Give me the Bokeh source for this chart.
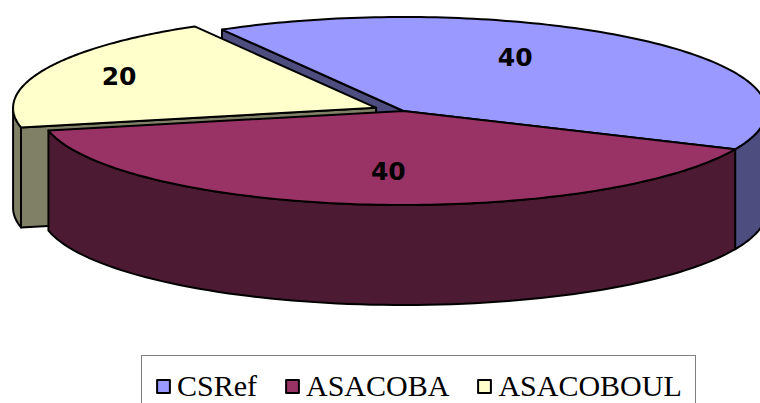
import numpy as np
from bokeh.plotting import figure
from bokeh.models import Range1d, Legend, LegendItem
from bokeh.embed import file_html
from bokeh.resources import INLINE
from bokeh.core.properties import value

# ---- data ----
categories = ["CSRef", "ASACOBA", "ASACOBOUL"]
values = [40, 40, 20]
label_texts = ["40", "40", "20"]

# ---- style ----
top_colors = ["#9999FF", "#993366", "#FFFFCC"]
side_colors = ["#4D4D80", "#4D1A33", "#808066"]
explode = [0, 0, 30]                 # per-slice explosion (px, pie plane)
label_frac = [(0.46, 0.77), (0.40, 0.64), (0.775, 0.82)]

W, H = 760, 403
CX, CY = 403, 110.5
RX, RY = 363, 94
DEPTH = 100
START_ANGLE = 120.0   # degrees, slices run clockwise

p = figure(width=W, height=H, x_range=Range1d(0, W), y_range=Range1d(H, 0),
           output_backend="svg", toolbar_location=None, min_border=0,
           x_axis_type=None, y_axis_type=None)
p.grid.visible = False
p.outline_line_color = None
p.background_fill_color = "white"


def P(ox, oy, ang, dz=0.0):
    a = np.radians(ang)
    return ox + RX * np.cos(a), oy - RY * np.sin(a) + dz


total = float(sum(values))
slices = []
cum = START_ANGLE
for i, v in enumerate(values):
    span = v / total * 360.0
    a_hi = cum
    a_lo = cum - span
    cum = a_lo
    mid = 0.5 * (a_hi + a_lo)
    e = explode[i]
    ox = CX + e * np.cos(np.radians(mid))
    oy = CY - e * (RY / RX) * np.sin(np.radians(mid))
    slices.append(dict(i=i, a_hi=a_hi, a_lo=a_lo, mid=mid, ox=ox, oy=oy))

order = sorted(slices, key=lambda s: -np.sin(np.radians(s["mid"])))

top_renderers = {}
lx, ly, lt = [], [], []
for s in order:
    i, ox, oy, a_hi, a_lo = s["i"], s["ox"], s["oy"], s["a_hi"], s["a_lo"]
    wxs, wys = [], []
    # radial walls
    for edge, normal in ((a_hi, a_hi + 90), (a_lo, a_lo - 90)):
        if np.sin(np.radians(normal)) < 0:
            ex, ey = P(ox, oy, edge)
            wxs.append([ox, ex, ex, ox])
            wys.append([oy, ey, ey + DEPTH, oy + DEPTH])
    # outer wall (front half)
    for k in range(-2, 3):
        lo = max(a_lo, -180 + 360 * k)
        hi = min(a_hi, 360 * k)
        if hi > lo:
            angs = np.linspace(lo, hi, 80)
            tx, ty = P(ox, oy, angs)
            xs = list(tx) + list(tx[::-1])
            ys = list(ty) + list((ty + DEPTH)[::-1])
            wxs.append(xs)
            wys.append(ys)
    if wxs:
        p.patches(wxs, wys, fill_color=side_colors[i], line_color="black",
                  line_width=2, line_join="round")
    angs = np.linspace(a_hi, a_lo, 120)
    tx, ty = P(ox, oy, angs)
    r = p.patch([ox] + list(tx), [oy] + list(ty), fill_color=top_colors[i],
                line_color="black", line_width=2, line_join="round")
    top_renderers[i] = r
    fx, fy = label_frac[i]
    m = np.radians(s["mid"])
    lx.append(ox + fx * RX * np.cos(m))
    ly.append(oy - fy * RY * np.sin(m))
    lt.append(label_texts[i])

p.text(x=lx, y=ly, text=lt, text_align="center", text_baseline="middle",
       text_font=value("DejaVu Sans"), text_font_style="bold",
       text_font_size="25px", text_color="black")

legend = Legend(
    items=[LegendItem(label=categories[i], renderers=[top_renderers[i]]) for i in range(len(categories))],
    orientation="horizontal", location=(141, -14),
    label_text_font="Liberation Serif", label_text_font_size="30px",
    label_text_color="black", label_text_line_height=1.0,
    glyph_width=16, glyph_height=16, label_standoff=6, spacing=27,
    padding=13, margin=0, border_line_color="black", border_line_width=1,
    background_fill_color="white", background_fill_alpha=1.0,
)
p.add_layout(legend)

open("out.html", "w").write(file_html(p, INLINE))
